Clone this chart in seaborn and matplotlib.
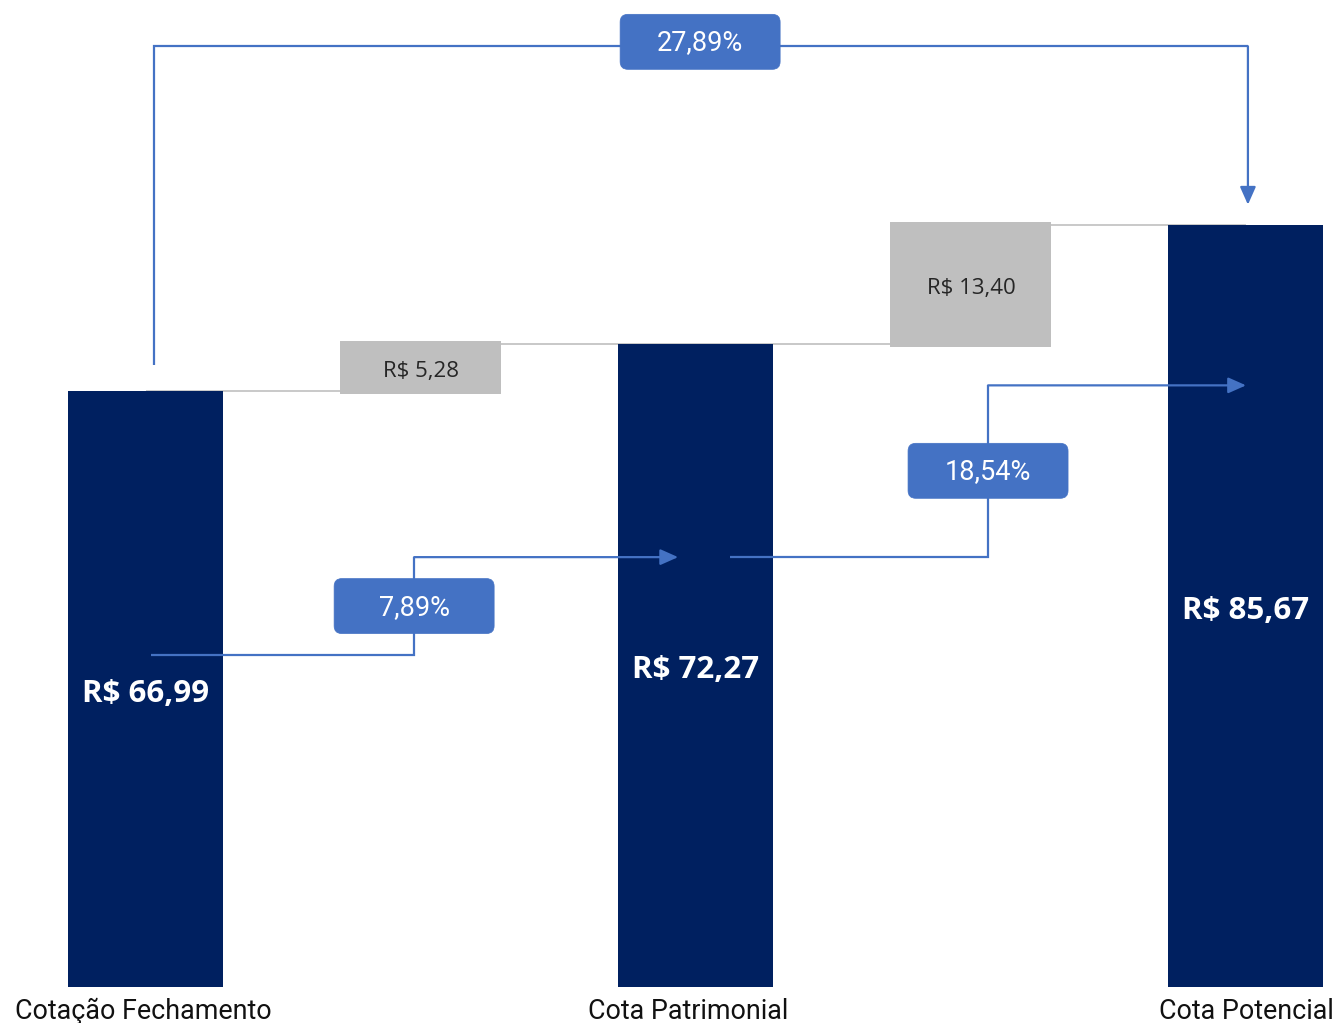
import matplotlib
matplotlib.use("Agg")
import matplotlib.pyplot as plt
from matplotlib.patches import FancyBboxPatch
from matplotlib.transforms import ScaledTranslation
import seaborn as sns
import pandas as pd

# Waterfall: closing price -> book value per share -> potential value per share
categories = ["Cotação Fechamento", "Ajuste Patrimonial", "Cota Patrimonial",
              "Ajuste Potencial", "Cota Potencial"]
total_names = ["Cotação Fechamento", "Cota Patrimonial", "Cota Potencial"]
total_values = [66.99, 72.27, 85.67]
step_names = ["Ajuste Patrimonial", "Ajuste Potencial"]
step_values = [5.28, 13.40]
pct_labels = ["7,89%", "18,54%", "27,89%"]

NAVY = "#002060"
GRAY = "#BFBFBF"
BLUE = "#4472C4"

sns.set_theme(style="white")
plt.rcParams["font.family"] = ["Roboto", "DejaVu Sans"]


def brl(v):
    return "R$ " + f"{v:.2f}".replace(".", ",")


fig = plt.figure(figsize=(13.37, 10.23), dpi=100)
ax = fig.add_axes([0, 36 / 1023, 1, 987 / 1023])

totals_df = pd.DataFrame({"categoria": total_names, "valor": total_values})
steps_df = pd.DataFrame({"categoria": step_names, "valor": step_values})
step_bottoms = [total_values[0], total_values[1]]

bar_w = 155 / 275
sns.barplot(data=totals_df, x="categoria", y="valor", order=categories,
            color=NAVY, saturation=1, width=bar_w, errorbar=None,
            linewidth=0, ax=ax, zorder=3)
sns.barplot(data=steps_df, x="categoria", y="valor", order=categories,
            color=GRAY, saturation=1, width=bar_w, errorbar=None,
            bottom=step_bottoms, edgecolor=GRAY, linewidth=4.3,
            ax=ax, zorder=3)

# connector lines between consecutive levels
levels = [total_values[0], total_values[1], total_values[1], total_values[2]]
spans = [(0, 1), (1, 3), (1, 3), (3, 4)]
for lvl, (a, b) in zip(levels, spans):
    ax.plot([a, b], [lvl, lvl], color="#C9C9C9", lw=1.4, zorder=1,
            solid_capstyle="butt")

# value labels
for name, v in zip(total_names, total_values):
    ax.annotate(brl(v), xy=(categories.index(name), v / 2), xytext=(0, -5),
                textcoords="offset pixels", ha="center", va="center",
                color="white", fontsize=22.5, fontweight="bold",
                family=["Open Sans", "DejaVu Sans"], zorder=5)
for name, v, b in zip(step_names, step_values, step_bottoms):
    ax.annotate(brl(v), xy=(categories.index(name), b + v / 2), xytext=(0, -4),
                textcoords="offset pixels", ha="center", va="center",
                color="#262626", fontsize=16,
                family=["Open Sans", "DejaVu Sans"], zorder=5)


def growth_path(points, box_xy, label):
    xs = [p[0] for p in points[:-1]]
    ys = [p[1] for p in points[:-1]]
    ax.plot(xs, ys, color=BLUE, lw=1.6, zorder=4, solid_capstyle="butt",
            solid_joinstyle="miter")
    ax.annotate("", xy=points[-1], xytext=points[-2],
                arrowprops=dict(arrowstyle="-|>,head_length=0.9,head_width=0.4",
                                color=BLUE, lw=1.6, shrinkA=0, shrinkB=0),
                zorder=4)
    bw, bh = 160 / 275, 55 / 8.9
    cx, cy = box_xy
    box = FancyBboxPatch((cx - bw / 2, cy - bh / 2), bw, bh,
                         boxstyle="round,pad=0,rounding_size=0.028",
                         mutation_aspect=275 / 8.9, facecolor=BLUE,
                         edgecolor=BLUE, lw=0.5, zorder=6)
    ax.add_patch(box)
    ax.annotate(label, xy=(cx, cy), xytext=(0, -1), textcoords="offset pixels",
                ha="center", va="center", color="white",
                fontsize=19.5, fontweight="normal", zorder=7)


growth_path([(0.018, 37.3), (0.975, 37.3), (0.975, 48.3), (1.935, 48.3)],
            (0.975, 42.8), pct_labels[0])
growth_path([(2.124, 48.3), (3.062, 48.3), (3.062, 67.6), (4.0, 67.6)],
            (3.062, 58.0), pct_labels[1])
growth_path([(0.029, 69.9), (0.029, 105.7), (4.007, 105.7), (4.007, 87.9)],
            (2.015, 106.2), pct_labels[2])

ax.set_xlim(-146 / 275, (1337 - 146) / 275)
ax.set_ylim(0, 987 / 8.9)
ax.set_xticks([0, 2, 4])
ax.set_xticklabels(total_names, fontsize=19.4, color="#111111")
ax.tick_params(axis="x", length=0, pad=8)
# small horizontal nudges of the category labels (pixels)
for lab, dx in zip(ax.get_xticklabels(), [-3, -8, 0]):
    lab.set_transform(lab.get_transform()
                      + ScaledTranslation(dx / 100, 0, fig.dpi_scale_trans))
ax.set_yticks([])
ax.set_xlabel("")
ax.set_ylabel("")
for s in ax.spines.values():
    s.set_visible(False)

fig.savefig("out.png", dpi=100)
